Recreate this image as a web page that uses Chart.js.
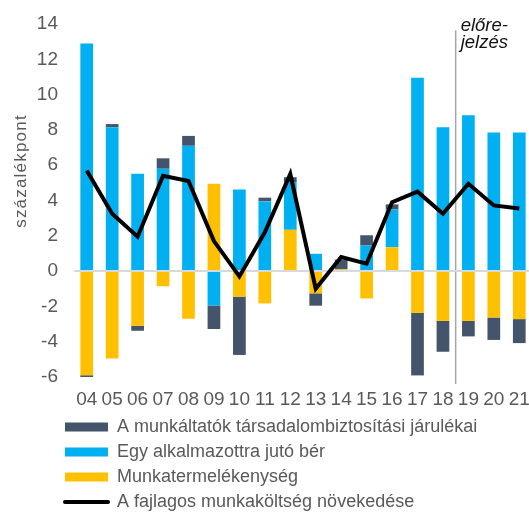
<!DOCTYPE html>
<html>
<head>
<meta charset="utf-8">
<script src="https://cdn.jsdelivr.net/npm/chart.js@4.4.1/dist/chart.umd.min.js"></script>
<style>
html,body{margin:0;padding:0;overflow:hidden;background:#fff;}
#wrap{width:532px;height:516px;position:relative;}
</style>
</head>
<body>
<div id="wrap"><canvas id="c"></canvas></div>
<script>
const categories = ['04','05','06','07','08','09','10','11','12','13','14','15','16','17','18','19','20','21'];
const employerContributions = [-0.1, 0.18, -0.28, 0.59, 0.56, -1.33, -3.3, 0.21, 0.28, -0.7, 0.55, 0.58, 0.28, -3.55, -1.75, -0.88, -1.27, -1.36];
const wagePerEmployee = [12.9, 8.15, 5.52, 5.8, 7.1, -1.95, 4.63, 3.95, 2.7, 0.98, 0, 1.45, 2.15, 10.95, 8.15, 8.83, 7.85, 7.85];
const productivity = [-5.9, -4.95, -3.1, -0.86, -2.7, 4.95, -1.45, -1.83, 2.34, -1.26, 0.1, -1.55, 1.35, -2.36, -2.82, -2.82, -2.63, -2.72];
const unitLabourCostGrowth = [5.7, 3.25, 1.95, 5.4, 5.1, 1.7, -0.3, 2.2, 5.5, -1.0, 0.8, 0.42, 3.9, 4.5, 3.25, 4.95, 3.72, 3.55];
const seriesLabels = ['A fajlagos munkaköltség növekedése','Munkatermelékenység','Egy alkalmazottra jutó bér','A munkáltatók társadalombiztosítási járulékai'];
const yMin = -6, yMax = 14, yStep = 2;
const forecastFirstCategory = '19';
const forecastLabel = ['előre-', 'jelzés'];
const yAxisTitle = 'százalékpont';

const COLORS = {dark:'#44546A', blue:'#00B0F0', yellow:'#FFC000', line:'#000000', text:'#595959'};
const FONT = '"Liberation Sans", Arial, sans-serif';

const overlay = {
  id: 'overlay',
  afterLayout(chart) {
    const lg = chart.legend;
    if (lg) {
      lg.left = 58; lg.top = 411; lg.right = 532; lg.bottom = 570;
      lg.width = lg.right - lg.left; lg.height = lg.bottom - lg.top;
    }
  },
  beforeDatasetsDraw(chart) {
    const {ctx, scales:{x, y}} = chart;
    const i = categories.indexOf(forecastFirstCategory);
    const px = (x.getPixelForValue(i - 1) + x.getPixelForValue(i)) / 2;
    ctx.save();
    ctx.strokeStyle = '#A6A6A6';
    ctx.lineWidth = 1.5;
    ctx.beginPath();
    ctx.moveTo(px, y.getPixelForValue(13.65));
    ctx.lineTo(px, y.getPixelForValue(-6.4));
    ctx.stroke();
    ctx.font = 'italic 18.5px ' + FONT;
    ctx.fillStyle = '#111';
    ctx.textAlign = 'left';
    ctx.textBaseline = 'alphabetic';
    ctx.fillText(forecastLabel[0], px + 5, 31);
    ctx.fillText(forecastLabel[1], px + 5, 48);
    ctx.restore();
  },
  afterDatasetDraw(chart, args) {
    if (args.index !== 1) return;
    const {ctx, chartArea, scales:{y}} = chart;
    const py = y.getPixelForValue(0);
    ctx.save();
    ctx.strokeStyle = '#D9D9D9';
    ctx.lineWidth = 2;
    ctx.beginPath();
    ctx.moveTo(chartArea.left, py);
    ctx.lineTo(chartArea.right, py);
    ctx.stroke();
    ctx.restore();
  },
  afterDraw(chart) {
    const {ctx} = chart;
    ctx.save();
    ctx.translate(21, 171);
    ctx.rotate(-Math.PI / 2);
    ctx.font = '17px ' + FONT;
    try { ctx.letterSpacing = '1.2px'; } catch (e) {}
    ctx.fillStyle = COLORS.text;
    ctx.textAlign = 'center';
    ctx.textBaseline = 'middle';
    ctx.fillText(yAxisTitle, 0, 0);
    ctx.restore();
  }
};

const legendOrder = [3, 2, 1, 0];

new Chart(document.getElementById('c'), {
  data: {
    labels: categories,
    datasets: [
      {type:'line', label: seriesLabels[0], data: unitLabourCostGrowth, borderColor: COLORS.line, backgroundColor: COLORS.line,
       borderWidth: 4, pointRadius: 0, tension: 0, fill: false, borderJoinStyle: 'miter'},
      {type:'bar', label: seriesLabels[1], data: productivity, backgroundColor: COLORS.yellow},
      {type:'bar', label: seriesLabels[2], data: wagePerEmployee, backgroundColor: COLORS.blue},
      {type:'bar', label: seriesLabels[3], data: employerContributions, backgroundColor: COLORS.dark}
    ]
  },
  options: {
    responsive: true,
    maintainAspectRatio: false,
    animation: false,
    devicePixelRatio: 1,
    datasets: { bar: { barPercentage: 0.5, categoryPercentage: 1.0, borderWidth: 0 } },
    layout: { padding: { top: 24, left: 0, right: 0, bottom: 110 } },
    scales: {
      x: {
        stacked: true,
        offset: true,
        grid: { display: false, drawTicks: false },
        border: { display: false },
        ticks: { color: COLORS.text, font: { family: FONT, size: 19 }, padding: 11, maxRotation: 0, autoSkip: false },
        afterFit(s) { s.height = 29; s.paddingLeft = 0; s.paddingRight = 0; }
      },
      y: {
        stacked: true,
        min: yMin, max: yMax,
        grid: { display: false, drawTicks: false },
        border: { display: false },
        ticks: { stepSize: yStep, color: COLORS.text, font: { family: FONT, size: 19 }, padding: 16 },
        afterFit(s) { s.width = 73; s.paddingTop = 0; s.paddingBottom = 0; }
      }
    },
    plugins: {
      tooltip: { enabled: false },
      legend: {
        position: 'left',
        align: 'start',
        maxWidth: 1,
        labels: {
          usePointStyle: true,
          pointStyleWidth: 43,
          boxHeight: 9,
          padding: 7,
          textAlign: 'left',
          color: COLORS.text,
          font: { family: FONT, size: 18 },
          generateLabels(chart) {
            return legendOrder.map(i => {
              const ds = chart.data.datasets[i];
              const isLine = ds.type === 'line';
              return {
                text: ds.label,
                datasetIndex: i,
                fillStyle: isLine ? 'rgba(0,0,0,0)' : ds.backgroundColor,
                strokeStyle: '#000',
                lineWidth: isLine ? 4 : 0,
                lineCap: 'round',
                pointStyle: isLine ? 'line' : 'rect',
                fontColor: COLORS.text,
                hidden: false
              };
            });
          }
        }
      }
    }
  },
  plugins: [overlay]
});
</script>
</body>
</html>
